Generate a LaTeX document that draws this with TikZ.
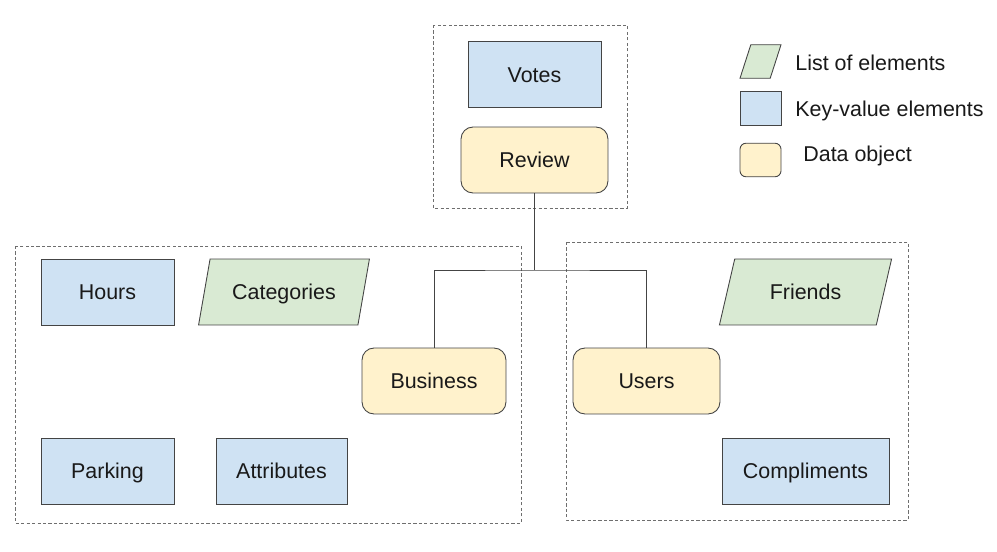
\documentclass[tikz,border=0pt]{standalone}
\usepackage{fontspec}
\setmainfont{Liberation Sans}
\usetikzlibrary{shapes.geometric}
\definecolor{kvblue}{HTML}{CFE2F3}
\definecolor{listgreen}{HTML}{D9EAD3}
\definecolor{datayellow}{HTML}{FFF2CC}
\definecolor{edgegray}{HTML}{444444}
\definecolor{groupgray}{HTML}{6E6E6E}
\begin{document}
\begin{tikzpicture}[x=0.02cm, y=-0.02cm,
    every node/.style={font=\fontsize{12.2}{14}\selectfont, text=black!90, text height=2ex, text depth=0.35ex},
    kvbox/.style={draw=edgegray, fill=kvblue, line width=0.5pt, minimum width=2.66cm, minimum height=1.32cm},
    databox/.style={draw=edgegray, fill=datayellow, line width=0.5pt, rounded corners=0.24cm, minimum width=2.94cm, minimum height=1.32cm},
    listbox/.style={draw=edgegray, fill=listgreen, line width=0.5pt, trapezium, trapezium left angle=75, trapezium right angle=105, trapezium stretches=true, minimum width=3.44cm, minimum height=1.32cm},
    group/.style={draw=groupgray, line width=0.5pt, dash pattern=on 1.8pt off 1.3pt},
    link/.style={draw=edgegray, line width=0.55pt}]
    \useasboundingbox [fill=white] (0, 0) rectangle (997, 551);
    \draw [group] (433, 25) rectangle (627, 208);
    \draw [group] (15, 246) rectangle (521, 523);
    \draw [group] (566, 242) rectangle (908, 520);
    \node [kvbox] (votes) at (534.5, 74.5) {Votes};
    \node [databox] (review) at (534.5, 160) {Review};
    \node [kvbox] (hours) at (107.5, 292) {Hours};
    \node [listbox] (categories) at (284, 292) {Categories};
    \node [databox, minimum width=2.88cm] (business) at (434, 381) {Business};
    \node [kvbox] (parking) at (107.5, 471) {Parking};
    \node [kvbox, minimum width=2.62cm] (attributes) at (281.5, 471) {Attributes};
    \node [listbox, minimum width=3.46cm] (friends) at (805.5, 292) {Friends};
    \node [databox] (users) at (646.5, 381) {Users};
    \node [kvbox, minimum width=3.34cm] (compliments) at (805.5, 471) {Compliments};
    \coordinate (split) at (534.5, 270);
    \draw [link] (review.south) -- (split);
    \draw [link] (business.north) |- (split) -| (users.north);
    \node [listbox, minimum width=0.82cm, minimum height=0.62cm, trapezium left angle=79, trapezium right angle=101] (keylist) at (760.5, 61.5) {};
    \node [kvbox, minimum width=0.82cm, minimum height=0.62cm] (keykv) at (760.5, 108.5) {};
    \node [databox, minimum width=0.82cm, minimum height=0.64cm, rounded corners=0.12cm] (keydata) at (760.5, 160) {};
    \node [anchor=west, inner sep=0pt] (keylisttext) at (795, 63) {List of elements};
    \node [anchor=west, inner sep=0pt] (keykvtext) at (795, 109) {Key-value elements};
    \node [anchor=west, inner sep=0pt] (keydatatext) at (803, 154) {Data object};
\end{tikzpicture}
\end{document}
